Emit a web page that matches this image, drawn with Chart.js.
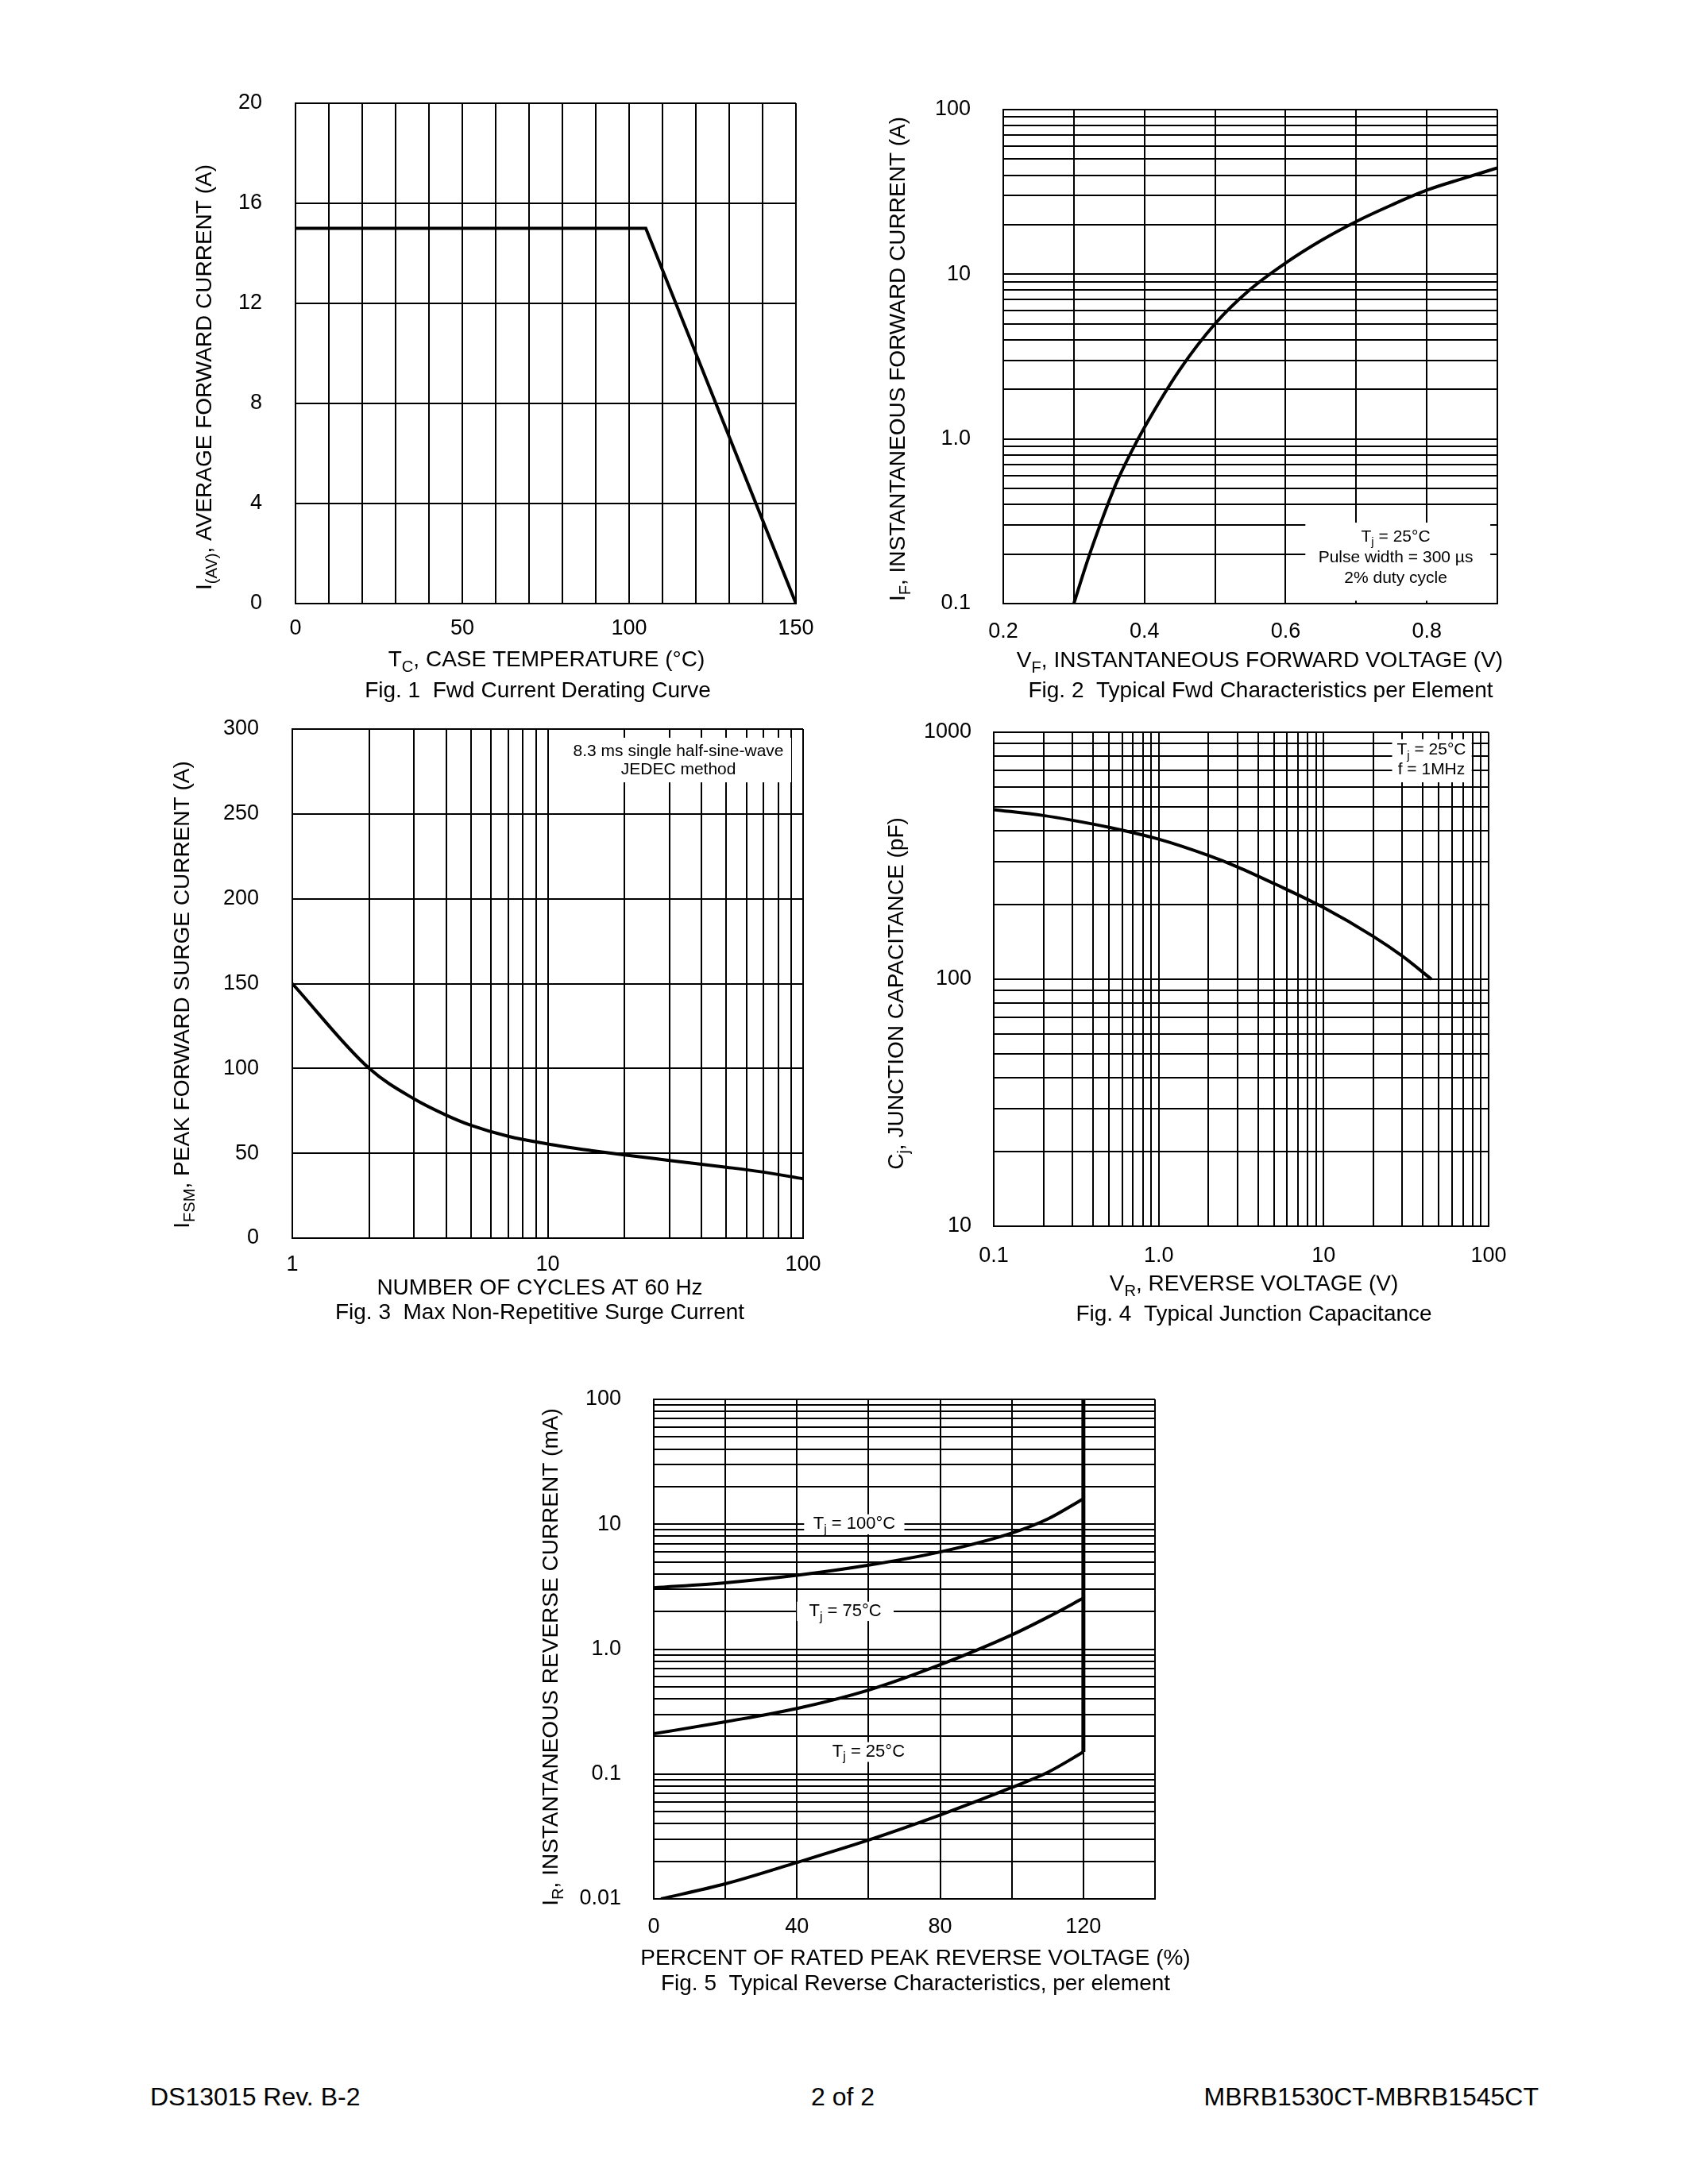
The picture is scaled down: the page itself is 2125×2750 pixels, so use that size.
<!DOCTYPE html>
<html>
<head>
<meta charset="utf-8">
<script src="https://cdn.jsdelivr.net/npm/chart.js@4.4.1/dist/chart.umd.min.js"></script>
<style>
  body { margin: 0; background: #fff; width: 2125px; height: 2750px; position: relative; overflow: hidden;
         font-family: 'Liberation Sans', Arial, sans-serif; }
  canvas { position: absolute; }
  .foot { position: absolute; top: 2620px; font-size: 32px; line-height: 40px; color: #000; white-space: nowrap; }
</style>
</head>
<body>
<canvas id="fig1"></canvas>
<canvas id="fig2"></canvas>
<canvas id="fig3"></canvas>
<canvas id="fig4"></canvas>
<canvas id="fig5"></canvas>
<div class="foot" style="left:189px">DS13015 Rev. B-2</div>
<div class="foot" style="left:0;width:2122px;text-align:center">2 of 2</div>
<div class="foot" style="right:188px">MBRB1530CT-MBRB1545CT</div>
<script>
const FONT = "'Liberation Sans', Arial, sans-serif";

// Fig. 1 - derating
const fig1Temp = [0, 105, 150];
const fig1Current = [15, 15, 0];
const fig1XTicks = [0, 50, 100, 150];
const fig1XTickText = ['0', '50', '100', '150'];
const fig1YTicks = [0, 4, 8, 12, 16, 20];
const fig1YTickText = ['0', '4', '8', '12', '16', '20'];

// Fig. 2 - forward characteristics
const fig2Voltage = [0.3, 0.32, 0.34, 0.36, 0.38, 0.4, 0.45, 0.5, 0.55, 0.6, 0.65, 0.7, 0.75, 0.8, 0.85, 0.9];
const fig2Current = [0.1, 0.186, 0.324, 0.537, 0.813, 1.175, 2.63, 5.0, 8.1, 11.7, 16.0, 20.9, 26.3, 32.4, 38.0, 44.2];
const fig2XTicks = [0.2, 0.4, 0.6, 0.8];
const fig2XTickText = ['0.2', '0.4', '0.6', '0.8'];
const fig2YTicks = [0.1, 1, 10, 100];
const fig2YTickText = ['0.1', '1.0', '10', '100'];

// Fig. 3 - surge current
const fig3Cycles = [1, 2, 3, 4, 5, 7, 10, 15, 20, 30, 50, 70, 100];
const fig3Current = [150, 100, 82, 72.5, 66.5, 60, 55.5, 51.5, 49, 45.8, 41.8, 38.9, 35];
const fig3XTicks = [1, 10, 100];
const fig3XTickText = ['1', '10', '100'];
const fig3YTicks = [0, 50, 100, 150, 200, 250, 300];
const fig3YTickText = ['0', '50', '100', '150', '200', '250', '300'];

// Fig. 4 - junction capacitance
const fig4Voltage = [0.1, 0.2, 0.3, 0.5, 1, 2, 3, 5, 10, 20, 30, 45];
const fig4Capacitance = [486, 460, 440, 412, 369, 317, 285, 244, 195, 149, 124, 100];
const fig4XTicks = [0.1, 1, 10, 100];
const fig4XTickText = ['0.1', '1.0', '10', '100'];
const fig4YTicks = [10, 100, 1000];
const fig4YTickText = ['10', '100', '1000'];

// Fig. 5 - reverse characteristics
const fig5Percent = [0, 20, 40, 60, 80, 100, 110, 120];
const fig5Tj100 = [3.1, 3.4, 3.9, 4.7, 6.0, 8.5, 11, 16];
const fig5Tj75 = [0.21, 0.262, 0.335, 0.47, 0.75, 1.3, 1.8, 2.56];
const fig5Percent25 = [2, 20, 40, 60, 80, 100, 110, 120];
const fig5Tj25 = [0.01, 0.0132, 0.0196, 0.0296, 0.047, 0.078, 0.103, 0.15];
const fig5LimitPercent = [120, 120];
const fig5LimitCurrent = [0.15, 100];
const fig5XTicks = [0, 40, 80, 120];
const fig5XTickText = ['0', '40', '80', '120'];
const fig5YTicks = [0.01, 0.1, 1, 10, 100];
const fig5YTickText = ['0.01', '0.1', '1.0', '10', '100'];

function linearGrid(min, max, step) {
  const out = [];
  const n = Math.round((max - min) / step);
  for (let i = 0; i <= n; i++) out.push(+(min + i * step).toFixed(6));
  return out;
}
function logGrid(min, max) {
  const out = [];
  for (let e = Math.round(Math.log10(min)); e <= Math.round(Math.log10(max)); e++) {
    for (let m = 1; m < 10; m++) {
      const v = m * Math.pow(10, e);
      if (v >= min * 0.9999 && v <= max * 1.0001) out.push(v);
    }
  }
  return out;
}
function labelFor(values, texts, v) {
  const i = values.findIndex(t => Math.abs(t - v) <= 1e-6 * Math.max(1, Math.abs(t)));
  return i < 0 ? '' : texts[i];
}
function xy(xs, ys) { return xs.map((x, i) => ({ x, y: ys[i] })); }

function drawRich(ctx, parts, cx, cy, size) {
  ctx.save();
  ctx.fillStyle = '#000';
  ctx.textBaseline = 'middle';
  ctx.textAlign = 'left';
  let w = 0;
  const segs = parts.map(p => {
    const sub = typeof p !== 'string';
    const t = sub ? p.sub : p;
    const s = sub ? size * 0.72 : size;
    ctx.font = s + 'px ' + FONT;
    const m = ctx.measureText(t).width;
    w += m;
    return { t, s, m, sub };
  });
  let x = cx - w / 2;
  segs.forEach(g => {
    ctx.font = g.s + 'px ' + FONT;
    ctx.fillText(g.t, x, cy + (g.sub ? size * 0.32 : 0));
    x += g.m;
  });
  ctx.restore();
}

const pageText = {
  id: 'pageText',
  beforeDatasetsDraw(chart, args, o) {
    const ctx = chart.ctx, xs = chart.scales.x, ys = chart.scales.y;
    (o.notes || []).forEach(n => {
      if (n.box) {
        const x0 = xs.getPixelForValue(n.box[0]), x1 = xs.getPixelForValue(n.box[1]);
        const y0 = ys.getPixelForValue(n.box[2]), y1 = ys.getPixelForValue(n.box[3]);
        ctx.save();
        ctx.fillStyle = '#fff';
        ctx.fillRect(Math.min(x0, x1), Math.min(y0, y1), Math.abs(x1 - x0), Math.abs(y1 - y0));
        ctx.restore();
      }
      const cx = xs.getPixelForValue(n.at[0]), cy = ys.getPixelForValue(n.at[1]);
      n.lines.forEach((parts, i) => drawRich(ctx, parts, cx, cy + (i - (n.lines.length - 1) / 2) * n.lh, n.size));
    });
  },
  afterDraw(chart, args, o) {
    const ctx = chart.ctx, a = chart.chartArea;
    const mid = (a.left + a.right) / 2;
    drawRich(ctx, o.xTitle, mid + o.titleShift, a.bottom + o.xTitleDy, 28);
    drawRich(ctx, o.caption, mid + o.captionShift, a.bottom + o.captionDy, 28);
    ctx.save();
    ctx.translate(a.left - o.yTitleDx, (a.top + a.bottom) / 2 + o.yTitleDy);
    ctx.rotate(-Math.PI / 2);
    drawRich(ctx, o.yTitle, 0, 0, 28);
    ctx.restore();
  }
};

function axis(type, min, max, grid, tickVals, tickText, pad, isX, size) {
  return {
    type, min, max,
    grid: { color: '#000', lineWidth: 2, drawTicks: false },
    border: { color: '#000', width: 2 },
    ticks: {
      autoSkip: false, maxRotation: 0, minRotation: 0, padding: pad, color: '#000',
      font: { family: FONT, size: 27 },
      callback: v => labelFor(tickVals, tickText, v)
    },
    afterBuildTicks: s => { s.ticks = grid.map(v => ({ value: v })); },
    afterFit: s => {
      if (isX) s.height = size; else s.width = size;
      s.paddingLeft = 0; s.paddingRight = 0; s.paddingTop = 0; s.paddingBottom = 0;
    }
  };
}

function line(points, w, smooth) {
  return {
    data: points, borderColor: '#000', borderWidth: w || 4, pointRadius: 0, fill: false,
    tension: smooth ? 0.4 : 0, cubicInterpolationMode: smooth ? 'monotone' : 'default'
  };
}

function buildChart(f) {
  const cv = document.getElementById(f.id);
  const padL = 200, padT = 30, padR = 90, padB = 180;
  cv.width = f.W + padL + padR;
  cv.height = f.H + padT + padB;
  cv.style.left = (f.L - padL) + 'px';
  cv.style.top = (f.T - padT) + 'px';
  return new Chart(cv, {
    type: 'line',
    data: { datasets: f.datasets },
    options: {
      responsive: false, animation: false, events: [],
      layout: { padding: { left: 0, top: padT, right: padR, bottom: 0 } },
      scales: {
        x: axis(f.x.type, f.x.min, f.x.max, f.x.grid, f.x.ticks, f.x.text, f.x.pad, true, padB),
        y: axis(f.y.type, f.y.min, f.y.max, f.y.grid, f.y.ticks, f.y.text, f.y.pad, false, padL)
      },
      plugins: { legend: { display: false }, tooltip: { enabled: false }, pageText: f.text }
    },
    plugins: [pageText]
  });
}

buildChart({
  id: 'fig1', L: 372, T: 130, W: 630, H: 630,
  x: { type: 'linear', min: 0, max: 150, grid: linearGrid(0, 150, 10), ticks: fig1XTicks, text: fig1XTickText, pad: 15 },
  y: { type: 'linear', min: 0, max: 20, grid: linearGrid(0, 20, 4), ticks: fig1YTicks, text: fig1YTickText, pad: 42 },
  datasets: [line(xy(fig1Temp, fig1Current), 4, false)],
  text: {
    xTitle: ['T', { sub: 'C' }, ', CASE TEMPERATURE (°C)'],
    caption: ['Fig. 1  Fwd Current Derating Curve'],
    yTitle: ['I', { sub: '(AV)' }, ', AVERAGE FORWARD CURRENT (A)'],
    titleShift: 1, captionShift: -10, xTitleDy: 71, captionDy: 110, yTitleDx: 114, yTitleDy: 30
  }
});

buildChart({
  id: 'fig2', L: 1263, T: 138, W: 622, H: 622,
  x: { type: 'linear', min: 0.2, max: 0.9, grid: linearGrid(0.2, 0.9, 0.1), ticks: fig2XTicks, text: fig2XTickText, pad: 19 },
  y: { type: 'logarithmic', min: 0.1, max: 100, grid: logGrid(0.1, 100), ticks: fig2YTicks, text: fig2YTickText, pad: 41 },
  datasets: [line(xy(fig2Voltage, fig2Current), 4, true)],
  text: {
    xTitle: ['V', { sub: 'F' }, ', INSTANTANEOUS FORWARD VOLTAGE (V)'],
    caption: ['Fig. 2  Typical Fwd Characteristics per Element'],
    yTitle: ['I', { sub: 'F' }, ', INSTANTANEOUS FORWARD CURRENT (A)'],
    titleShift: 12, captionShift: 13, xTitleDy: 72, captionDy: 110, yTitleDx: 132, yTitleDy: 3,
    notes: [{
      box: [0.628, 0.89, 0.104, 0.31], at: [0.756, 0.19], lh: 26, size: 21,
      lines: [['T', { sub: 'j' }, ' = 25°C'], ['Pulse width = 300 µs'], ['2% duty cycle']]
    }]
  }
});

buildChart({
  id: 'fig3', L: 368, T: 918, W: 643, H: 641,
  x: { type: 'logarithmic', min: 1, max: 100, grid: logGrid(1, 100), ticks: fig3XTicks, text: fig3XTickText, pad: 17 },
  y: { type: 'linear', min: 0, max: 300, grid: linearGrid(0, 300, 50), ticks: fig3YTicks, text: fig3YTickText, pad: 42 },
  datasets: [line(xy(fig3Cycles, fig3Current), 4, true)],
  text: {
    xTitle: ['NUMBER OF CYCLES AT 60 Hz'],
    caption: ['Fig. 3  Max Non-Repetitive Surge Current'],
    yTitle: ['I', { sub: 'FSM' }, ', PEAK FORWARD SURGE CURRENT (A)'],
    titleShift: -10, captionShift: -10, xTitleDy: 63, captionDy: 94, yTitleDx: 138, yTitleDy: 14,
    notes: [{
      box: [11.6, 89.8, 268.6, 294.9], at: [32.5, 281.5], lh: 23, size: 21,
      lines: [['8.3 ms single half-sine-wave'], ['JEDEC method']]
    }]
  }
});

buildChart({
  id: 'fig4', L: 1251, T: 922, W: 623, H: 622,
  x: { type: 'logarithmic', min: 0.1, max: 100, grid: logGrid(0.1, 100), ticks: fig4XTicks, text: fig4XTickText, pad: 21 },
  y: { type: 'logarithmic', min: 10, max: 1000, grid: logGrid(10, 1000), ticks: fig4YTicks, text: fig4YTickText, pad: 28 },
  datasets: [line(xy(fig4Voltage, fig4Capacitance), 4, true)],
  text: {
    xTitle: ['V', { sub: 'R' }, ', REVERSE VOLTAGE (V)'],
    caption: ['Fig. 4  Typical Junction Capacitance'],
    yTitle: ['C', { sub: 'j' }, ', JUNCTION CAPACITANCE (pF)'],
    titleShift: 16, captionShift: 16, xTitleDy: 73, captionDy: 111, yTitleDx: 122, yTitleDy: 18,
    notes: [{
      box: [26, 79, 627, 936], at: [45, 771], lh: 25, size: 21,
      lines: [['T', { sub: 'j' }, ' = 25°C'], ['f = 1MHz']]
    }]
  }
});

buildChart({
  id: 'fig5', L: 823, T: 1762, W: 631, H: 629,
  x: { type: 'linear', min: 0, max: 140, grid: linearGrid(0, 140, 20), ticks: fig5XTicks, text: fig5XTickText, pad: 19 },
  y: { type: 'logarithmic', min: 0.01, max: 100, grid: logGrid(0.01, 100), ticks: fig5YTicks, text: fig5YTickText, pad: 41 },
  datasets: [
    line(xy(fig5Percent, fig5Tj100), 4, true),
    line(xy(fig5Percent, fig5Tj75), 4, true),
    line(xy(fig5Percent25, fig5Tj25), 4, true),
    line(xy(fig5LimitPercent, fig5LimitCurrent), 5, false)
  ],
  text: {
    xTitle: ['PERCENT OF RATED PEAK REVERSE VOLTAGE (%)'],
    caption: ['Fig. 5  Typical Reverse Characteristics, per element'],
    yTitle: ['I', { sub: 'R' }, ', INSTANTANEOUS REVERSE CURRENT (mA)'],
    titleShift: 14, captionShift: 14, xTitleDy: 75, captionDy: 107, yTitleDx: 129, yTitleDy: 10,
    notes: [
      { box: [42, 70, 8.3, 12], at: [56, 10], lh: 0, size: 22, lines: [['T', { sub: 'j' }, ' = 100°C']] },
      { box: [40, 67, 1.68, 2.4], at: [53.5, 2.0], lh: 0, size: 22, lines: [['T', { sub: 'j' }, ' = 75°C']] },
      { box: [47.5, 72.5, 0.125, 0.18], at: [60, 0.15], lh: 0, size: 22, lines: [['T', { sub: 'j' }, ' = 25°C']] }
    ]
  }
});
</script>
</body>
</html>
